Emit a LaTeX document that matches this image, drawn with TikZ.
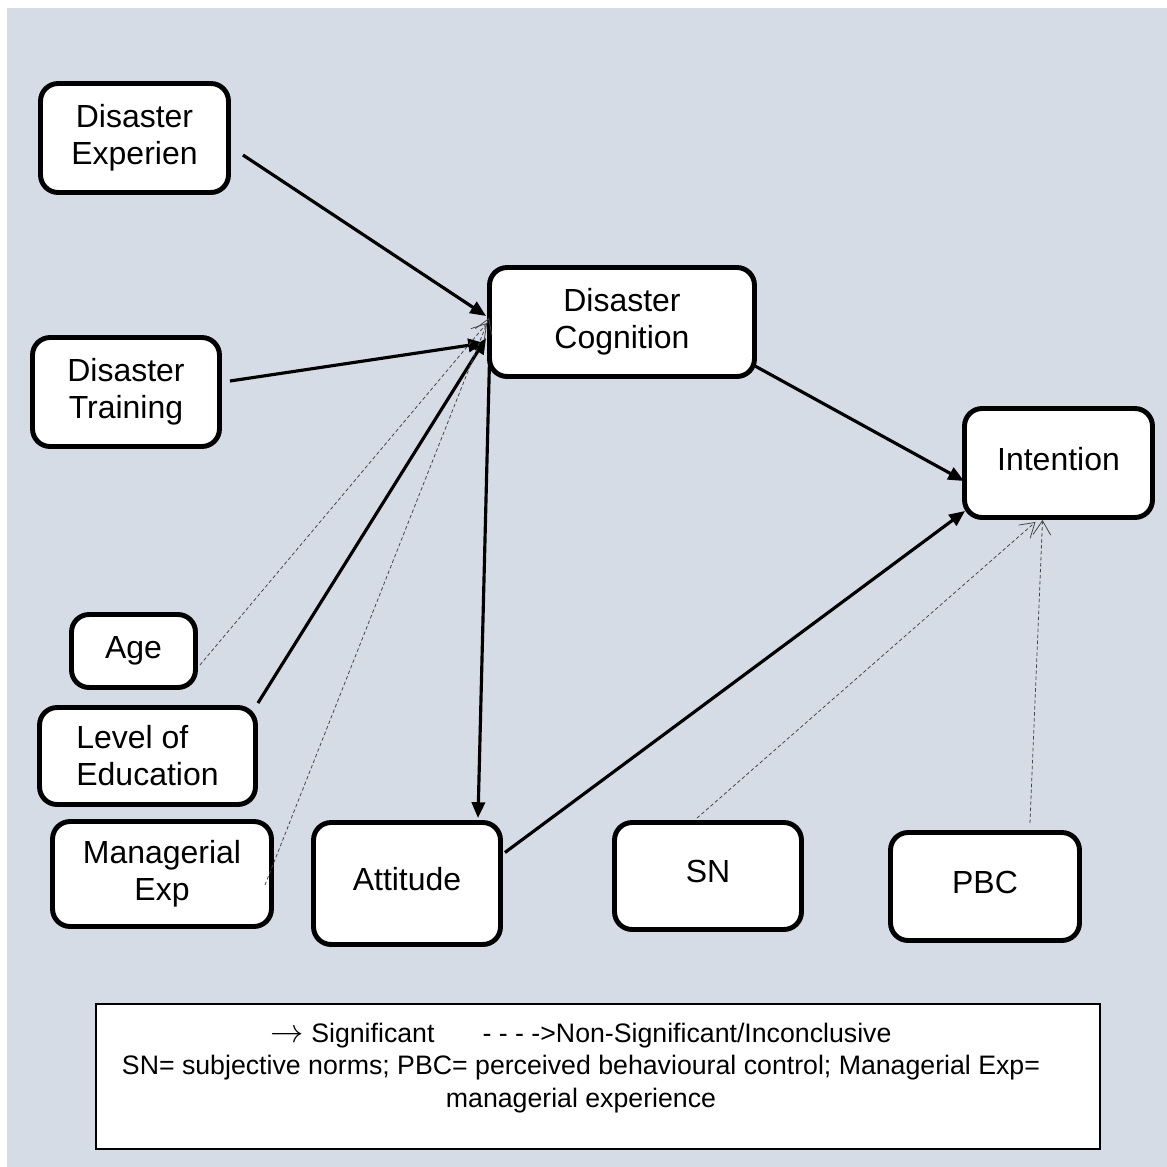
\documentclass[tikz,border=0pt]{standalone}
\usepackage{fontspec}
\setmainfont{Liberation Sans}
\usepackage{graphicx}
\usepackage{xcolor}
\definecolor{panelgrey}{RGB}{214, 220, 229}
\definecolor{dashgrey}{RGB}{70, 70, 70}
\usepackage{tikz}
\usetikzlibrary{arrows.meta, calc}

\begin{document}
\begin{tikzpicture}[x=0.02cm, y=-0.02cm,
    cbox/.style={rectangle, rounded corners=10pt, draw=black, line width=2.8pt, fill=white, align=center, inner sep=0pt, font=\fontsize{18.2}{21}\selectfont},
    lift/.style={text depth=0.5em},
    sig/.style={-{Triangle[length=9pt, width=7.5pt]}, line width=1.8pt, black},
    nonsig/.style={-{Straight Barb[length=8pt, width=10pt]}, line width=0.45pt, dashgrey, dash pattern=on 2pt off 1.4pt},
    legendbox/.style={rectangle, draw=black, line width=0.8pt, fill=white, minimum width=20.08cm, minimum height=2.9cm},
    legendtext/.style={align=center, inner sep=0pt, font=\fontsize{15.2}{18.6}\selectfont}
  ]
    \useasboundingbox (0,0) rectangle (1167,1167);
    \fill[white] (0,0) rectangle (1167,1167);
    \fill[panelgrey] (7,8) rectangle (1167,1167);

    \node[cbox, minimum width=3.76cm, minimum height=2.18cm] (dexp) at (134.5,138) {Disaster\\Experien};
    \node[cbox, minimum width=3.74cm, minimum height=2.18cm] (dtrain) at (126,392) {Disaster\\Training};
    \node[cbox, minimum width=5.30cm, minimum height=2.18cm] (dcog) at (622,322) {Disaster\\Cognition};
    \node[cbox, lift, minimum width=3.76cm, minimum height=2.18cm] (intent) at (1058.5,463) {Intention};
    \node[cbox, minimum width=2.48cm, minimum height=1.46cm] (age) at (133.5,651) {Age};
    \node[cbox, align=left, minimum width=4.32cm, minimum height=1.94cm] (edu) at (147.5,756) {Level of\\Education};
    \node[cbox, minimum width=4.38cm, minimum height=2.10cm] (mexp) at (162,874) {Managerial\\Exp};
    \node[cbox, lift, minimum width=3.74cm, minimum height=2.44cm] (att) at (407,883.5) {Attitude};
    \node[cbox, lift, minimum width=3.74cm, minimum height=2.14cm] (sn) at (708,876) {SN};
    \node[cbox, lift, minimum width=3.78cm, minimum height=2.16cm] (pbc) at (985,886.5) {PBC};

    % significant paths
    \draw[sig] ([shift={(12,17)}]dexp.east) -- ([shift={(-1,-6)}]dcog.west);
    \draw[sig] ([shift={(8,-11)}]dtrain.east) -- ([shift={(-3,21)}]dcog.west);
    \draw[sig] ([shift={(0,-2)}]edu.north east) -- ([shift={(-1,16)}]dcog.west);
    \draw[sig] ([shift={(3,16)}]dcog.west) -- ([shift={(71,-2)}]att.north);
    \draw[sig] ([shift={(-2,-13)}]dcog.south east) -- ([shift={(2,18)}]intent.west);
    \draw[sig] ([shift={(2,-31)}]att.east) -- ([shift={(3,-9)}]intent.south west);

    % non-significant paths
    \draw[nonsig] ([shift={(2,14)}]age.east) -- ([shift={(0,1)}]dcog.west);
    \draw[nonsig] ([shift={(-9,11)}]mexp.east) -- ([shift={(2,-4)}]dcog.west);
    \draw[nonsig] ([shift={(-11,-2)}]sn.north) -- ([shift={(-23,2)}]intent.south);
    \draw[nonsig] ([shift={(45,-7)}]pbc.north) -- ([shift={(-16,0)}]intent.south);

    \node[legendbox] (legend) at (598,1076.5) {};
    \node[legendtext] (legtxt) at (581,1068) {\resizebox{1.25em}{!}{$\rightarrow$} Significant\hspace{1.8em}- - - ->Non-Significant/Inconclusive\\SN= subjective norms; PBC= perceived behavioural control; Managerial Exp=\\managerial experience};
  \end{tikzpicture}
\end{document}
